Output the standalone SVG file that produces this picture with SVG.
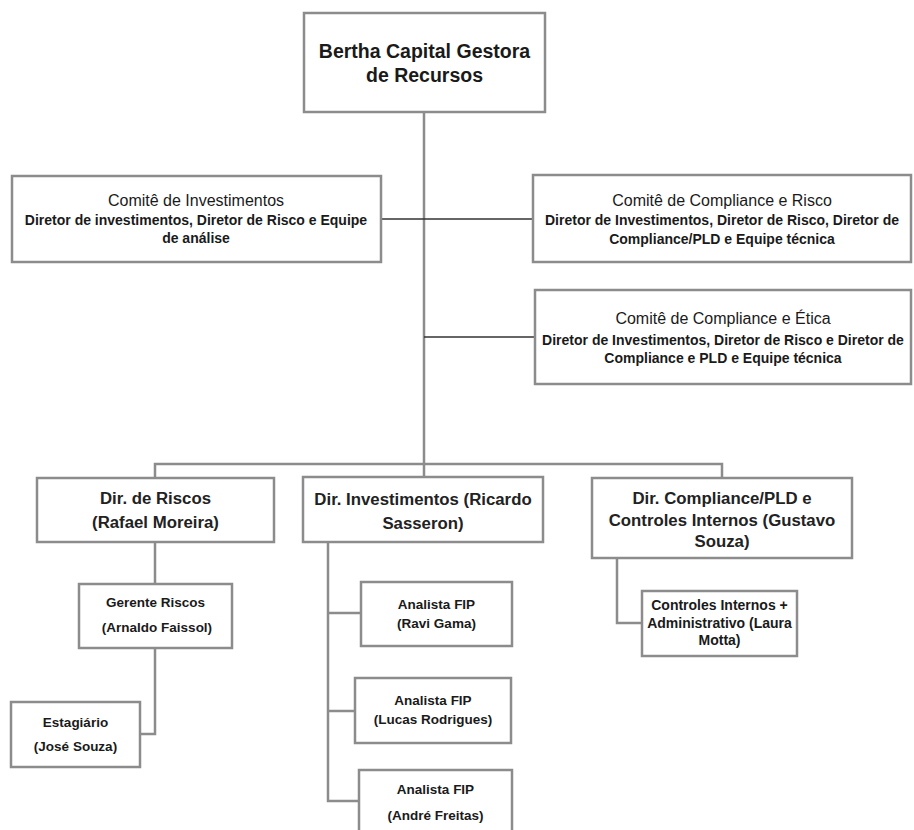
<svg xmlns="http://www.w3.org/2000/svg" width="914" height="830" viewBox="0 0 914 830">
<style>
.box{fill:#fff;stroke:#8c8c8c;stroke-width:2.5}
.ln{fill:none;stroke:#8c8c8c;stroke-width:2.5}
.thin{fill:none;stroke:#333;stroke-width:1.3}
text{font-family:"Liberation Sans",Arial,sans-serif;fill:#1a1a1a;text-anchor:middle}
.t0{font-size:19.5px;font-weight:bold}
.tc{font-size:16px}
.td{font-size:14px;font-weight:bold}
.tdir{font-size:16.8px;font-weight:bold;fill:#222}
.ts{font-size:13.5px;font-weight:bold}
</style>
<rect width="914" height="830" fill="#fff"/>
<g id="connectors">
<path class="ln" d="M424 112V464"/>
<path class="thin" d="M381 219H533"/>
<path class="thin" d="M424 337H535"/>
<path class="ln" d="M155 478V464H722V478M424 464V477"/>
<path class="ln" d="M155 542V584M155 648V734H140"/>
<path class="ln" d="M328 542V801H359M328 613H361M328 711H355"/>
<path class="ln" d="M617 558V623H642"/>
</g>
<g id="n-bertha">
<rect class="box" x="304" y="13" width="241" height="99"/>
<text class="t0" x="424.5" y="58">Bertha Capital Gestora</text>
<text class="t0" x="424.5" y="82">de Recursos</text>
</g>
<g id="n-comite-inv">
<rect class="box" x="12" y="176" width="369" height="86"/>
<text class="tc" x="196" y="206">Comitê de Investimentos</text>
<text class="td" x="196" y="225">Diretor de investimentos, Diretor de Risco e Equipe</text>
<text class="td" x="196" y="243">de análise</text>
</g>
<g id="n-comite-risco">
<rect class="box" x="533" y="175" width="378" height="87"/>
<text class="tc" x="722" y="206">Comitê de Compliance e Risco</text>
<text class="td" x="722" y="225">Diretor de Investimentos, Diretor de Risco, Diretor de</text>
<text class="td" x="722" y="244">Compliance/PLD  e Equipe técnica</text>
</g>
<g id="n-comite-etica">
<rect class="box" x="535" y="290" width="376" height="94"/>
<text class="tc" x="723" y="324">Comitê de Compliance e Ética</text>
<text class="td" x="723" y="345">Diretor de Investimentos, Diretor de Risco e Diretor de</text>
<text class="td" x="723" y="363">Compliance e PLD e Equipe técnica</text>
</g>
<g id="n-dir-riscos">
<rect class="box" x="37" y="478" width="237" height="64"/>
<text class="tdir" x="155.5" y="504">Dir. de Riscos</text>
<text class="tdir" x="155.5" y="528">(Rafael Moreira)</text>
</g>
<g id="n-dir-inv">
<rect class="box" x="303" y="477" width="240" height="65"/>
<text class="tdir" x="423" y="505">Dir. Investimentos (Ricardo</text>
<text class="tdir" x="423" y="529">Sasseron)</text>
</g>
<g id="n-dir-comp">
<rect class="box" x="592" y="478" width="260" height="80"/>
<text class="tdir" x="722" y="504">Dir. Compliance/PLD e</text>
<text class="tdir" x="722" y="526">Controles Internos (Gustavo</text>
<text class="tdir" x="722" y="547">Souza)</text>
</g>
<g id="n-gerente">
<rect class="box" x="79" y="584" width="153" height="64"/>
<text class="ts" x="155.5" y="607">Gerente Riscos</text>
<text class="ts" x="157" y="632">(Arnaldo Faissol)</text>
</g>
<g id="n-estagiario">
<rect class="box" x="11" y="702" width="129" height="65"/>
<text class="ts" x="75.5" y="727">Estagiário</text>
<text class="ts" x="75.5" y="751">(José Souza)</text>
</g>
<g id="n-analista1">
<rect class="box" x="361" y="582" width="151" height="64"/>
<text class="ts" x="436.5" y="609">Analista FIP</text>
<text class="ts" x="436.5" y="628">(Ravi Gama)</text>
</g>
<g id="n-analista2">
<rect class="box" x="355" y="678" width="156" height="65"/>
<text class="ts" x="433" y="705">Analista FIP</text>
<text class="ts" x="433" y="724">(Lucas Rodrigues)</text>
</g>
<g id="n-analista3">
<rect class="box" x="359" y="770" width="153" height="75"/>
<text class="ts" x="435.5" y="794">Analista FIP</text>
<text class="ts" x="435.5" y="820">(André Freitas)</text>
</g>
<g id="n-controles">
<rect class="box" x="642" y="591" width="155" height="65"/>
<text class="td" x="719.5" y="610">Controles Internos +</text>
<text class="td" x="719.5" y="628">Administrativo (Laura</text>
<text class="td" x="719.5" y="645">Motta)</text>
</g>
</svg>
